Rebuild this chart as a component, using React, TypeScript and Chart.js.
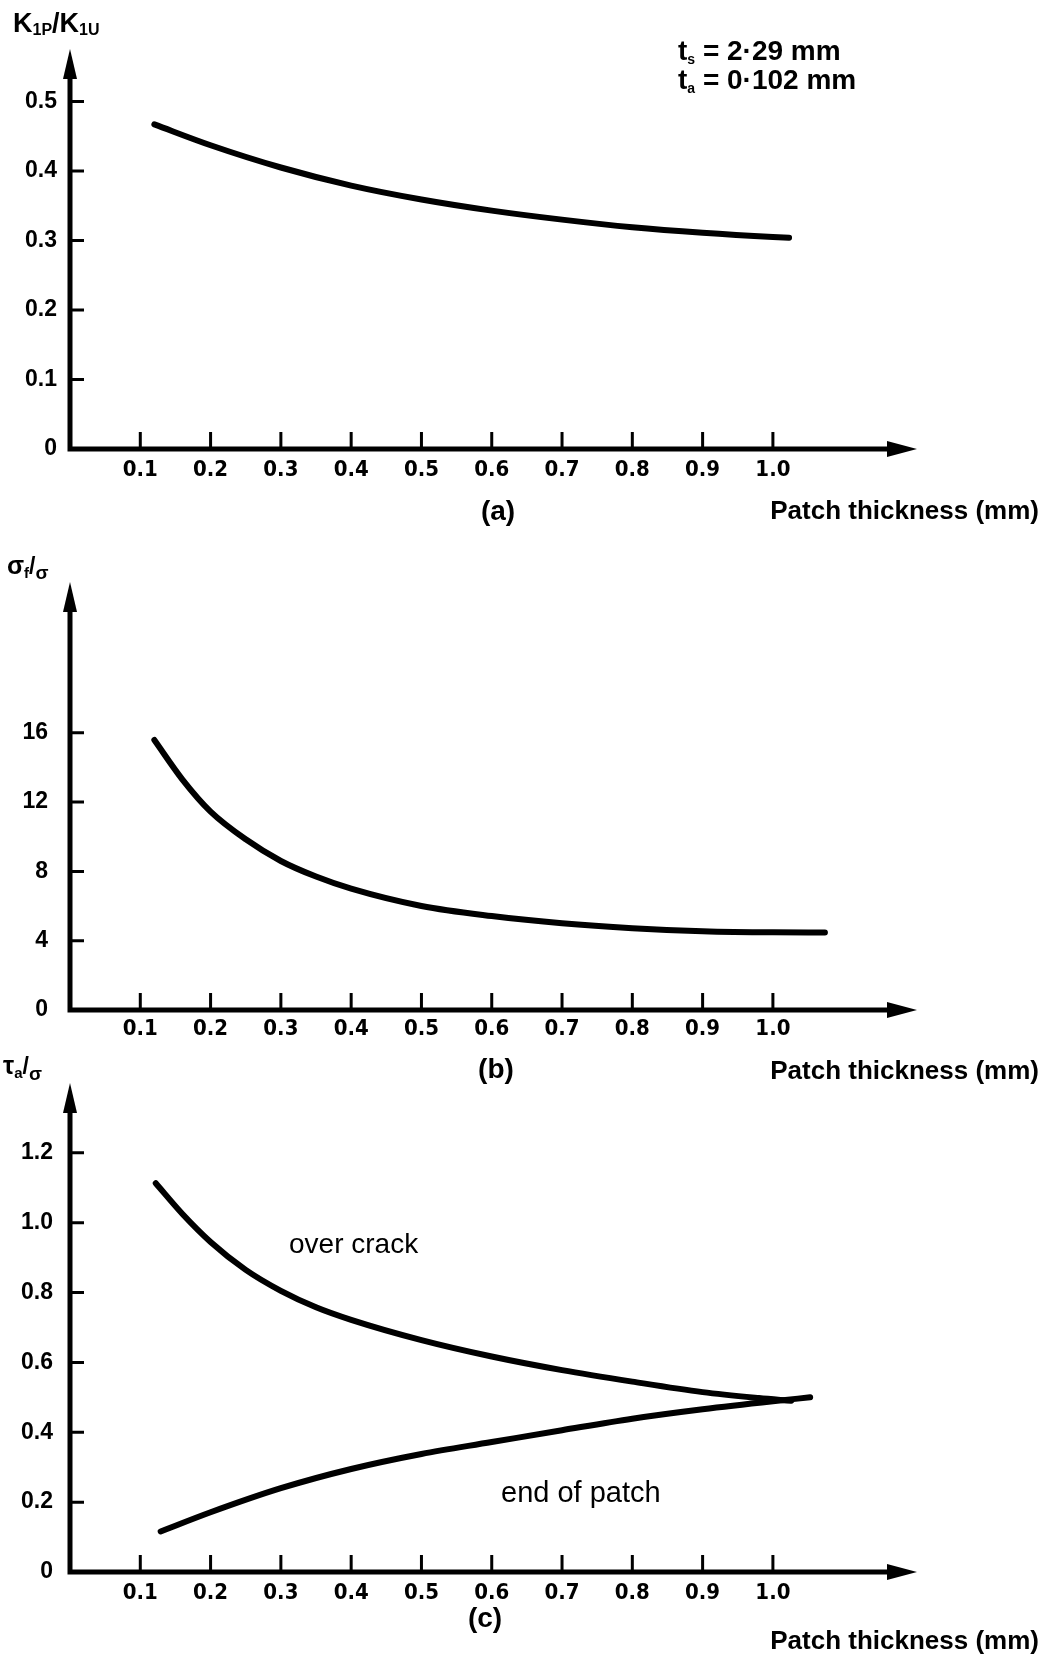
import React, { useEffect, useRef } from "react";
import { Chart, registerables } from "chart.js";

Chart.register(...registerables);

// ---------------- data ----------------
// shared x axis (patch thickness, mm)
const xTickValues = [0.1, 0.2, 0.3, 0.4, 0.5, 0.6, 0.7, 0.8, 0.9, 1.0];
const xTickLabels = ["0.1", "0.2", "0.3", "0.4", "0.5", "0.6", "0.7", "0.8", "0.9", "1.0"];

// panel (a): K1P/K1U vs patch thickness
const aThickness = [0.12, 0.2, 0.3, 0.4, 0.5, 0.6, 0.7, 0.8, 0.9, 1.0, 1.023];
const aStressIntensityRatio = [0.467, 0.437, 0.405, 0.379, 0.359, 0.343, 0.33, 0.319, 0.311, 0.305, 0.304];
const aYTickValues = [0, 0.1, 0.2, 0.3, 0.4, 0.5];
const aYTickLabels = ["0", "0.1", "0.2", "0.3", "0.4", "0.5"];

// panel (b): sigma_f / sigma vs patch thickness
const bThickness = [0.12, 0.16, 0.2, 0.25, 0.3, 0.35, 0.4, 0.5, 0.6, 0.7, 0.8, 0.9, 1.0, 1.074];
const bFibreStressRatio = [15.58, 13.3, 11.45, 9.85, 8.6, 7.7, 7.0, 6.0, 5.42, 5.0, 4.72, 4.55, 4.48, 4.47];
const bYTickValues = [0, 4, 8, 12, 16];
const bYTickLabels = ["0", "4", "8", "12", "16"];

// panel (c): tau_a / sigma vs patch thickness
const cOverCrackThickness = [0.122, 0.16, 0.2, 0.25, 0.3, 0.35, 0.4, 0.5, 0.6, 0.7, 0.8, 0.9, 0.98, 1.026];
const cOverCrackShear = [1.113, 1.025, 0.945, 0.865, 0.805, 0.758, 0.722, 0.664, 0.617, 0.578, 0.545, 0.515, 0.498, 0.49];
const cEndPatchThickness = [0.129, 0.2, 0.3, 0.4, 0.5, 0.6, 0.7, 0.8, 0.9, 1.0, 1.053];
const cEndPatchShear = [0.116, 0.171, 0.24, 0.295, 0.338, 0.372, 0.406, 0.439, 0.466, 0.489, 0.5];
const cYTickValues = [0, 0.2, 0.4, 0.6, 0.8, 1.0, 1.2];
const cYTickLabels = ["0", "0.2", "0.4", "0.6", "0.8", "1.0", "1.2"];

// ---------------- layout / style ----------------
const W = 1050;
const H = 1662;
const AXIS_LEFT = 70;
const AXIS_RIGHT = 917;
const X_MAX = 1.205;
const X_SCALE_H = 44;
const SANS = '"Liberation Sans", Arial, Helvetica, sans-serif';
const NARROW = '"Liberation Sans Narrow", "DejaVu Sans Condensed", "Liberation Sans", Arial, sans-serif';

type Seg = { t: string; size: number; dy?: number; weight?: string };
type TextLine = { segs: Seg[]; x: number; y: number };
type Note = { text: string; x: number; y: number; size: number; weight: string };

interface PanelSpec {
  top: number;
  bottom: number;
  yMax: number;
  yTicks: number[];
  yLabels: string[];
  yLabelPad: number;
  xLabelPad: number;
  series: { x: number[]; y: number[] }[];
  yTitle: TextLine;
  extraLines: TextLine[];
  caption: { text: string; x: number; y: number };
  xTitleY: number;
  notes: Note[];
}

function drawSegs(ctx: CanvasRenderingContext2D, line: TextLine) {
  let x = line.x;
  ctx.textAlign = "left";
  ctx.textBaseline = "alphabetic";
  for (const s of line.segs) {
    ctx.font = `${s.weight ?? "bold"} ${s.size}px ${SANS}`;
    ctx.fillText(s.t, x, line.y + (s.dy ?? 0));
    x += ctx.measureText(s.t).width;
  }
}

function decorPlugin(spec: PanelSpec) {
  return {
    id: "decor",
    afterDraw(chart: any) {
      const ctx: CanvasRenderingContext2D = chart.ctx;
      const { left, right, top, bottom } = chart.chartArea;
      const xs = chart.scales.x;
      const ys = chart.scales.y;
      ctx.save();
      ctx.strokeStyle = "#000";
      ctx.fillStyle = "#000";
      ctx.lineCap = "butt";

      // axes lines
      const arrowLen = 30;
      ctx.lineWidth = 5;
      ctx.beginPath();
      ctx.moveTo(left, bottom + 2.5);
      ctx.lineTo(left, top + arrowLen - 2);
      ctx.moveTo(left - 2.5, bottom);
      ctx.lineTo(right - arrowLen + 2, bottom);
      ctx.stroke();

      // arrowheads
      ctx.beginPath();
      ctx.moveTo(left, top);
      ctx.lineTo(left - 7, top + arrowLen);
      ctx.lineTo(left + 7, top + arrowLen);
      ctx.closePath();
      ctx.fill();
      ctx.beginPath();
      ctx.moveTo(right, bottom);
      ctx.lineTo(right - arrowLen, bottom - 8);
      ctx.lineTo(right - arrowLen, bottom + 8);
      ctx.closePath();
      ctx.fill();

      // inward tick marks
      ctx.lineWidth = 3;
      ctx.beginPath();
      for (const v of xTickValues) {
        const px = xs.getPixelForValue(v);
        ctx.moveTo(px, bottom);
        ctx.lineTo(px, bottom - 17);
      }
      for (const v of spec.yTicks) {
        if (v === 0) continue;
        const py = ys.getPixelForValue(v);
        ctx.moveTo(left, py);
        ctx.lineTo(left + 14, py);
      }
      ctx.stroke();

      // y title and extra text lines
      drawSegs(ctx, spec.yTitle);
      for (const l of spec.extraLines) drawSegs(ctx, l);

      // caption
      ctx.font = `bold 28px ${SANS}`;
      ctx.textAlign = "center";
      ctx.textBaseline = "middle";
      ctx.fillText(spec.caption.text, spec.caption.x, spec.caption.y);

      // x title
      ctx.font = `bold 26px ${SANS}`;
      ctx.textAlign = "right";
      ctx.fillText("Patch thickness (mm)", 1039, spec.xTitleY);

      // notes
      for (const n of spec.notes) {
        ctx.font = `${n.weight} ${n.size}px ${SANS}`;
        ctx.textAlign = "left";
        ctx.textBaseline = "middle";
        ctx.fillText(n.text, n.x, n.y);
      }
      ctx.restore();
    },
  };
}

function buildChart(canvas: HTMLCanvasElement, spec: PanelSpec) {
  const datasets = spec.series.map((s) => ({
    data: s.x.map((x, i) => ({ x, y: s.y[i] })),
    borderColor: "#000",
    borderWidth: 6,
    pointRadius: 0,
    fill: false,
    cubicInterpolationMode: "monotone" as const,
    borderCapStyle: "round" as const,
    borderJoinStyle: "round" as const,
  }));
  return new Chart(canvas, {
    type: "line",
    data: { datasets },
    options: {
      responsive: false,
      animation: false,
      devicePixelRatio: 1,
      events: [],
      layout: {
        autoPadding: false,
        padding: {
          top: spec.top,
          left: 0,
          right: W - AXIS_RIGHT,
          bottom: H - spec.bottom - X_SCALE_H,
        },
      },
      plugins: {
        legend: { display: false },
        tooltip: { enabled: false },
        title: { display: false },
      },
      scales: {
        x: {
          type: "linear",
          position: "bottom",
          min: 0,
          max: X_MAX,
          grid: { display: false, drawTicks: false },
          border: { display: false },
          afterBuildTicks: (s: any) => {
            s.ticks = xTickValues.map((v) => ({ value: v }));
          },
          afterFit: (s: any) => {
            s.height = X_SCALE_H;
          },
          ticks: {
            autoSkip: false,
            maxRotation: 0,
            minRotation: 0,
            padding: spec.xLabelPad,
            color: "#000",
            font: { family: NARROW, size: 22, weight: "bold" },
            callback: (_v: any, i: number) => xTickLabels[i],
          },
        },
        y: {
          type: "linear",
          position: "left",
          min: 0,
          max: spec.yMax,
          grid: { display: false, drawTicks: false },
          border: { display: false },
          afterBuildTicks: (s: any) => {
            s.ticks = spec.yTicks.map((v) => ({ value: v }));
          },
          afterFit: (s: any) => {
            s.width = AXIS_LEFT;
          },
          ticks: {
            autoSkip: false,
            padding: spec.yLabelPad,
            color: "#000",
            font: { family: SANS, size: 23, weight: "bold" },
            callback: (_v: any, i: number) => spec.yLabels[i],
          },
        },
      },
    } as any,
    plugins: [decorPlugin(spec)],
  });
}

const panelA: PanelSpec = {
  top: 49,
  bottom: 449,
  yMax: 0.5755,
  yTicks: aYTickValues,
  yLabels: aYTickLabels,
  yLabelPad: 13,
  xLabelPad: 8,
  series: [{ x: aThickness, y: aStressIntensityRatio }],
  yTitle: {
    x: 13,
    y: 32,
    segs: [
      { t: "K", size: 27 },
      { t: "1P", size: 16, dy: 3 },
      { t: "/", size: 27 },
      { t: "K", size: 27 },
      { t: "1U", size: 16, dy: 3 },
    ],
  },
  extraLines: [
    {
      x: 678,
      y: 60,
      segs: [
        { t: "t", size: 28 },
        { t: "s", size: 14, dy: 4 },
        { t: " = 2·29 mm", size: 28 },
      ],
    },
    {
      x: 678,
      y: 89,
      segs: [
        { t: "t", size: 28 },
        { t: "a", size: 14, dy: 4 },
        { t: " = 0·102 mm", size: 28 },
      ],
    },
  ],
  caption: { text: "(a)", x: 498, y: 512 },
  xTitleY: 512,
  notes: [],
};

const panelB: PanelSpec = {
  top: 582,
  bottom: 1010,
  yMax: 24.7,
  yTicks: bYTickValues,
  yLabels: bYTickLabels,
  yLabelPad: 22,
  xLabelPad: 6,
  series: [{ x: bThickness, y: bFibreStressRatio }],
  yTitle: {
    x: 7,
    y: 574,
    segs: [
      { t: "σ", size: 25 },
      { t: "f", size: 15, dy: 4 },
      { t: "/", size: 23 },
      { t: "σ", size: 19, dy: 5 },
    ],
  },
  extraLines: [],
  caption: { text: "(b)", x: 496, y: 1070 },
  xTitleY: 1072,
  notes: [],
};

const panelC: PanelSpec = {
  top: 1083,
  bottom: 1572,
  yMax: 1.4,
  yTicks: cYTickValues,
  yLabels: cYTickLabels,
  yLabelPad: 17,
  xLabelPad: 8,
  series: [
    { x: cOverCrackThickness, y: cOverCrackShear },
    { x: cEndPatchThickness, y: cEndPatchShear },
  ],
  yTitle: {
    x: 3,
    y: 1074,
    segs: [
      { t: "τ", size: 25 },
      { t: "a", size: 15, dy: 4 },
      { t: "/", size: 23 },
      { t: "σ", size: 19, dy: 6 },
    ],
  },
  extraLines: [],
  caption: { text: "(c)", x: 485, y: 1619 },
  xTitleY: 1642,
  notes: [
    { text: "over crack", x: 289, y: 1245, size: 28, weight: "normal" },
    { text: "end of patch", x: 501, y: 1494, size: 29, weight: "normal" },
  ],
};

export default function App() {
  const refA = useRef<HTMLCanvasElement>(null);
  const refB = useRef<HTMLCanvasElement>(null);
  const refC = useRef<HTMLCanvasElement>(null);

  useEffect(() => {
    const charts = [
      buildChart(refA.current!, panelA),
      buildChart(refB.current!, panelB),
      buildChart(refC.current!, panelC),
    ];
    return () => charts.forEach((c) => c.destroy());
  }, []);

  const cs: React.CSSProperties = { position: "absolute", left: 0, top: 0, width: W, height: H };
  return (
    <div style={{ position: "absolute", left: 0, top: 0, width: W, height: H, background: "#fff" }}>
      <canvas ref={refA} width={W} height={H} style={cs} />
      <canvas ref={refB} width={W} height={H} style={cs} />
      <canvas ref={refC} width={W} height={H} style={cs} />
    </div>
  );
}
